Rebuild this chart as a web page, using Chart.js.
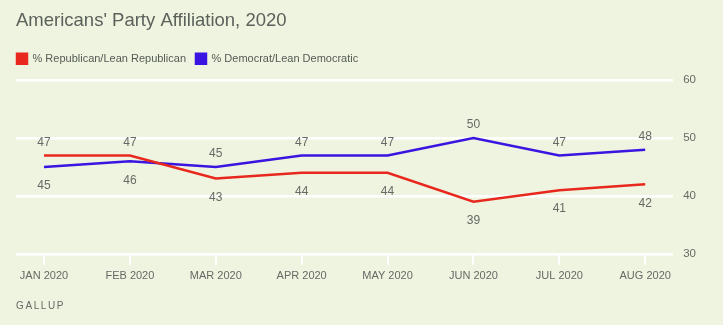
<!DOCTYPE html>
<html>
<head>
<meta charset="utf-8">
<script src="https://cdn.jsdelivr.net/npm/chart.js@4"></script>
<style>
  html, body { margin: 0; padding: 0; background: #eef4df; }
  #wrap { width: 723px; height: 325px; }
</style>
</head>
<body>
<div id="wrap"><canvas id="chart" width="723" height="325"></canvas></div>
<script>
// ---------------- DATA ----------------
const months = ['JAN 2020', 'FEB 2020', 'MAR 2020', 'APR 2020', 'MAY 2020', 'JUN 2020', 'JUL 2020', 'AUG 2020'];
const republican = [47, 47, 43, 44, 44, 39, 41, 42];
const democrat = [45, 46, 45, 47, 47, 50, 47, 48];
const yTicks = [30, 40, 50, 60];

const RED = '#e8281e';
const BLUE = '#3a14e0';
const GREY = '#666a66';
const FONT = "'Liberation Sans', Arial, sans-serif";
const SOURCE = 'GALLUP';

const series = [republican, democrat];

// -------- value labels: above the higher line, below the lower --------
const valueLabels = {
  id: 'valueLabels',
  afterDatasetsDraw(chart) {
    const ctx = chart.ctx;
    ctx.save();
    ctx.font = '12px ' + FONT;
    ctx.fillStyle = GREY;
    ctx.textAlign = 'center';
    ctx.textBaseline = 'middle';
    series.forEach((own, di) => {
      const other = series[1 - di];
      chart.getDatasetMeta(di).data.forEach((pt, i) => {
        const above = own[i] > other[i];
        const y = above ? pt.y - 13 : pt.y + 19;
        ctx.fillText(String(own[i]), pt.x, y);
      });
    });
    ctx.restore();
  }
};

// legend: a bit more room underneath, flush with the title on the left
const legendTweak = {
  id: 'legendTweak',
  beforeInit(chart) {
    const fit = chart.legend.fit;
    chart.legend.fit = function () {
      fit.bind(chart.legend)();
      this.height += 6;
    };
  },
  afterLayout(chart) {
    chart.legend.left -= 9;
  }
};

// spaced-out source line (drawn over the invisible subtitle box)
const sourceLine = {
  id: 'sourceLine',
  afterDraw(chart) {
    const box = chart.boxes.find(b => b.position === 'bottom' && b.options && b.options.text === SOURCE);
    if (!box) return;
    const ctx = chart.ctx;
    ctx.save();
    ctx.font = '10px ' + FONT;
    ctx.letterSpacing = '1.6px';
    ctx.fillStyle = '#666a66';
    ctx.textBaseline = 'middle';
    ctx.fillText(SOURCE, box.left, box.bottom - 6);
    ctx.restore();
  }
};

new Chart(document.getElementById('chart'), {
  type: 'line',
  data: {
    datasets: [
      {
        label: '% Republican/Lean Republican',
        data: republican.map((v, i) => ({ x: i, y: v })),
        borderColor: RED,
        backgroundColor: RED,
        borderWidth: 2.5,
        pointRadius: 0,
        tension: 0
      },
      {
        label: '% Democrat/Lean Democratic',
        data: democrat.map((v, i) => ({ x: i, y: v })),
        borderColor: BLUE,
        backgroundColor: BLUE,
        borderWidth: 2.5,
        pointRadius: 0,
        tension: 0
      }
    ]
  },
  options: {
    responsive: false,
    animation: false,
    layout: { padding: { left: 16, right: 17, top: 4, bottom: 13 } },
    plugins: {
      title: {
        display: true,
        text: "Americans' Party Affiliation, 2020",
        align: 'start',
        color: '#5c615c',
        font: { family: FONT, size: 18.5, weight: 'normal' },
        padding: { top: 6, bottom: 11 }
      },
      subtitle: {
        display: true,
        text: SOURCE,
        position: 'bottom',
        align: 'start',
        color: 'rgba(0,0,0,0)',
        font: { family: FONT, size: 10 },
        padding: { top: 12, bottom: 0 }
      },
      legend: {
        align: 'start',
        labels: {
          boxWidth: 10,
          boxHeight: 10,
          color: '#555a55',
          font: { family: FONT, size: 11 },
          padding: 10
        }
      },
      tooltip: { enabled: false }
    },
    scales: {
      x: {
        type: 'linear',
        min: -0.326,
        max: 7.326,
        afterBuildTicks: axis => { axis.ticks = months.map((_, i) => ({ value: i })); },
        ticks: {
          callback: v => months[v],
          color: GREY,
          font: { family: FONT, size: 11 },
          padding: 5,
          maxRotation: 0,
          autoSkip: false
        },
        grid: {
          drawOnChartArea: false,
          color: '#ffffff',
          lineWidth: 2,
          tickLength: 11
        },
        border: { display: false }
      },
      y: {
        position: 'right',
        min: 30,
        max: 60,
        afterBuildTicks: axis => { axis.ticks = yTicks.map(v => ({ value: v })); },
        ticks: {
          color: GREY,
          font: { family: FONT, size: 11.5 },
          padding: 10
        },
        grid: {
          color: '#ffffff',
          lineWidth: 2.5,
          drawTicks: false
        },
        border: { display: false }
      }
    }
  },
  plugins: [valueLabels, legendTweak, sourceLine]
});
</script>
</body>
</html>
